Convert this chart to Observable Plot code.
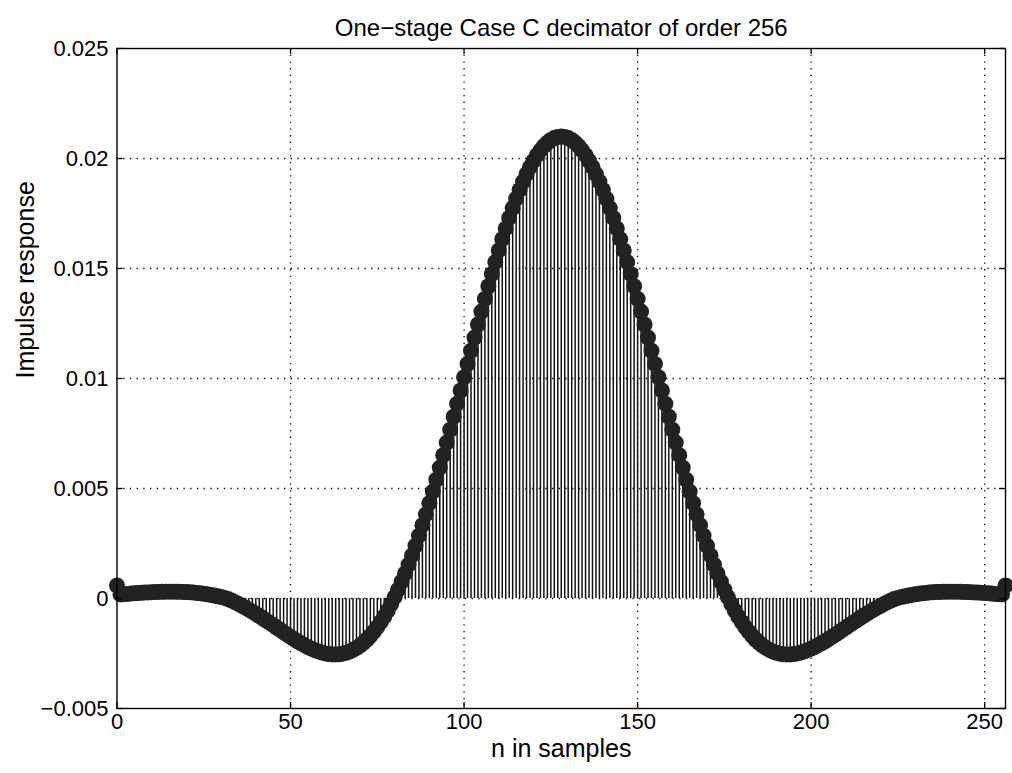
<!DOCTYPE html>
<html>
<head>
<meta charset="utf-8">
<script src="https://cdn.jsdelivr.net/npm/d3@7"></script>
<script src="https://cdn.jsdelivr.net/npm/@observablehq/plot@0.6"></script>
<style>
  html, body { margin: 0; padding: 0; background: #fff; }
  #chart svg { display: block; }
</style>
</head>
<body>
<div id="chart"></div>
<script>
// Impulse response h[n], n = 0 … 256, of the one-stage Case C decimator (order 256)
const response = [
  0.00059, 0.000185, 0.000198, 0.000210, 0.000223, 0.000235, 0.000246, 0.000257, 0.000268, 0.000278,
  0.000286, 0.000294, 0.000300, 0.000306, 0.000309, 0.000311, 0.000311, 0.000309, 0.000306, 0.000300,
  0.000292, 0.000281, 0.000268, 0.000253, 0.000235, 0.000213, 0.000189, 0.000163, 0.000133, 0.000100,
  0.000064, 0.000025, -0.000026, -0.000096, -0.000169, -0.000247, -0.000329, -0.000416, -0.000506, -0.000599,
  -0.000696, -0.000796, -0.000898, -0.001002, -0.001108, -0.001214, -0.001322, -0.001429, -0.001536, -0.001641,
  -0.001744, -0.001845, -0.001942, -0.002035, -0.002123, -0.002204, -0.002280, -0.002347, -0.002406, -0.002456,
  -0.002495, -0.002524, -0.002540, -0.002543, -0.002533, -0.002508, -0.002468, -0.002412, -0.002338, -0.002247,
  -0.002138, -0.002010, -0.001863, -0.001695, -0.001507, -0.001298, -0.001069, -0.000818, -0.000545, -0.000251,
  0.000065, 0.000402, 0.000760, 0.001139, 0.001539, 0.001958, 0.002398, 0.002856, 0.003332, 0.003825,
  0.004335, 0.004860, 0.005399, 0.005950, 0.006514, 0.007088, 0.007670, 0.008260, 0.008855, 0.009455,
  0.010057, 0.010660, 0.011262, 0.011861, 0.012455, 0.013043, 0.013623, 0.014192, 0.014750, 0.015294,
  0.015822, 0.016333, 0.016822, 0.017297, 0.017746, 0.018172, 0.018572, 0.018946, 0.019292, 0.019609,
  0.019895, 0.020150, 0.020373, 0.020563, 0.020720, 0.020842, 0.020930, 0.020982, 0.021000, 0.020982,
  0.020930, 0.020842, 0.020720, 0.020563, 0.020373, 0.020150, 0.019895, 0.019609, 0.019292, 0.018946,
  0.018572, 0.018172, 0.017746, 0.017297, 0.016822, 0.016333, 0.015822, 0.015294, 0.014750, 0.014192,
  0.013623, 0.013043, 0.012455, 0.011861, 0.011262, 0.010660, 0.010057, 0.009455, 0.008855, 0.008260,
  0.007670, 0.007088, 0.006514, 0.005950, 0.005399, 0.004860, 0.004335, 0.003825, 0.003332, 0.002856,
  0.002398, 0.001958, 0.001539, 0.001139, 0.000760, 0.000402, 0.000065, -0.000251, -0.000545, -0.000818,
  -0.001069, -0.001298, -0.001507, -0.001695, -0.001863, -0.002010, -0.002138, -0.002247, -0.002338, -0.002412,
  -0.002468, -0.002508, -0.002533, -0.002543, -0.002540, -0.002524, -0.002495, -0.002456, -0.002406, -0.002347,
  -0.002280, -0.002204, -0.002123, -0.002035, -0.001942, -0.001845, -0.001744, -0.001641, -0.001536, -0.001429,
  -0.001322, -0.001214, -0.001108, -0.001002, -0.000898, -0.000796, -0.000696, -0.000599, -0.000506, -0.000416,
  -0.000329, -0.000247, -0.000169, -0.000096, -0.000026, 0.000025, 0.000064, 0.000100, 0.000133, 0.000163,
  0.000189, 0.000213, 0.000235, 0.000253, 0.000268, 0.000281, 0.000292, 0.000300, 0.000306, 0.000309,
  0.000311, 0.000311, 0.000309, 0.000306, 0.000300, 0.000294, 0.000286, 0.000278, 0.000268, 0.000257,
  0.000246, 0.000235, 0.000223, 0.000210, 0.000198, 0.000185, 0.00059
];

const xTicks = [0, 50, 100, 150, 200, 250];
const xTickLabels = ["0", "50", "100", "150", "200", "250"];
const yTicks = [-0.005, 0, 0.005, 0.01, 0.015, 0.02, 0.025];
const yTickLabels = ["\u22120.005", "0", "0.005", "0.01", "0.015", "0.02", "0.025"];
const xDomain = [0, 256];
const yDomain = [-0.005, 0.025];

const titleText = "One\u2212stage Case C decimator of order 256";
const xLabel = "n in samples";
const yLabel = "Impulse response";

const samples = response.map((h, n) => ({n, h}));

const W = 1012, H = 773;
const mL = 116.5, mR = 7, mT = 48, mB = 65;
const frameW = W - mL - mR, frameH = H - mT - mB;
const tickLen = 6;
const font = "'Liberation Sans', Arial, Helvetica, sans-serif";

const chart = Plot.plot({
  width: W,
  height: H,
  marginLeft: mL,
  marginRight: mR,
  marginTop: mT,
  marginBottom: mB,
  style: {background: "#fff", color: "#000", fontFamily: font, fontSize: "22px", overflow: "visible"},
  x: {domain: xDomain, axis: null},
  y: {domain: yDomain, axis: null},
  marks: [
    // dotted grid
    Plot.ruleX(xTicks.slice(1), {x: d => d, stroke: "#000", strokeWidth: 1.3, strokeDasharray: "1.3,5.4"}),
    Plot.ruleY(yTicks.slice(1, -1), {y: d => d, stroke: "#000", strokeWidth: 1.3, strokeDasharray: "1.3,5.4"}),
    // stems
    Plot.ruleX(samples, {x: "n", y1: 0, y2: "h", stroke: "#111", strokeWidth: 1.5}),
    // stem heads
    Plot.dot(samples, {x: "n", y: "h", r: 8, fill: "#222", stroke: "none"}),
    // box and inward ticks
    Plot.frame({stroke: "#000", strokeWidth: 1.4}),
    Plot.tickX(xTicks, {x: d => d, insetTop: frameH - tickLen, stroke: "#000", strokeWidth: 1.3}),
    Plot.tickX(xTicks, {x: d => d, insetBottom: frameH - tickLen, stroke: "#000", strokeWidth: 1.3}),
    Plot.tickY(yTicks, {y: d => d, insetRight: frameW - tickLen, stroke: "#000", strokeWidth: 1.3}),
    Plot.tickY(yTicks, {y: d => d, insetLeft: frameW - tickLen, stroke: "#000", strokeWidth: 1.3}),
    // tick labels
    Plot.text(xTicks, {x: d => d, frameAnchor: "bottom", dy: 20, text: (d, i) => xTickLabels[i], fontSize: 22, fill: "#000"}),
    Plot.text(yTicks, {y: d => d, frameAnchor: "left", dx: -8.5, textAnchor: "end", text: (d, i) => yTickLabels[i], fontSize: 22, fill: "#000"}),
    // title and axis labels
    Plot.text([titleText], {frameAnchor: "top", dy: -30, text: d => d, fontSize: 24, fill: "#000"}),
    Plot.text([xLabel], {frameAnchor: "bottom", dy: 48, text: d => d, fontSize: 25, fill: "#000"}),
    Plot.text([yLabel], {frameAnchor: "left", dx: -91, rotate: -90, text: d => d, fontSize: 25, fill: "#000"})
  ]
});

document.getElementById("chart").appendChild(chart);
</script>
</body>
</html>
